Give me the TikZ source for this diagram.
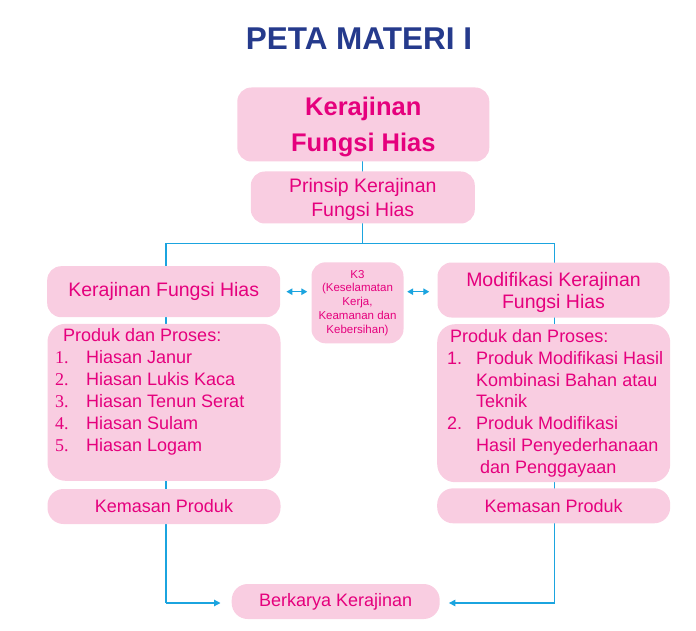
\documentclass[tikz,border=0pt]{standalone}
\usepackage{fontspec}
\setmainfont{Liberation Sans}
\newfontfamily\serifnum{Liberation Serif}
\usetikzlibrary{arrows.meta}
\definecolor{boxpink}{HTML}{F9CDE1}
\definecolor{txtmag}{HTML}{E5007D}
\definecolor{lncyan}{HTML}{1BA4DF}
\definecolor{navy}{HTML}{253A8C}
\newcommand{\fs}[2]{\fontsize{#1}{#2}\selectfont}
\tikzset{
  pbox/.style={fill=boxpink, draw=none, rounded corners=14pt, inner sep=0pt, text=txtmag, align=center},
  ptext/.style={text=txtmag, inner sep=0pt, align=left, anchor=north west},
  link/.style={draw=lncyan, line width=1.2pt},
  tip/.style={-{Triangle[length=6.5pt,width=6.5pt]}},
  dtip/.style={{Triangle[length=6pt,width=6.5pt]}-{Triangle[length=6pt,width=6.5pt]}}
}
\begin{document}
\begin{tikzpicture}[x=1pt,y=-1pt]
\useasboundingbox (0,0) rectangle (696,631);
% title
\node[text=navy, font=\fs{31.5}{36}\bfseries, anchor=base] (title) at (359,50) {PETA MATERI I};
% coordinates for lines
\coordinate (hL) at (166,243.3);
\coordinate (hR) at (554.5,243.3);
\coordinate (hM) at (362.7,243.3);
\coordinate (bL) at (166,603);
\coordinate (bR) at (554.5,603);
% lines behind boxes
\draw[link] (362.7,160) -- (hM);
\draw[link] (hL) -- (hR);
\draw[link] (hL) -- (bL);
\draw[link] (hR) -- (bR);
% boxes
\node[pbox, minimum width=252pt, minimum height=74pt, text depth=0pt, font=\fs{25.5}{35.5}\bfseries] (main) at (363.3,124.5) {Kerajinan\\Fungsi Hias};
\node[pbox, minimum width=224pt, minimum height=52pt, text depth=0pt, font=\fs{19.5}{24.5}] (prinsip) at (362.8,197.5) {Prinsip Kerajinan\\Fungsi Hias};
\node[pbox, minimum width=233pt, minimum height=51pt, font=\fs{19.5}{24}] (kfh) at (163.7,291.7) {Kerajinan Fungsi Hias};
\node[pbox, minimum width=92pt, minimum height=81pt, font=\fs{11.5}{13.8}] (k3) at (357.5,302.8) {K3\\(Keselamatan\\Kerja,\\Keamanan dan\\Kebersihan)};
\node[pbox, minimum width=232pt, minimum height=55pt, text depth=0pt, font=\fs{19.5}{22}] (mod) at (553.5,290) {Modifikasi Kerajinan\\Fungsi Hias};
\node[pbox, rounded corners=18pt, minimum width=233pt, minimum height=157pt] (lprod) at (164,402.3) {};
\node[pbox, rounded corners=18pt, minimum width=233pt, minimum height=158pt] (rprod) at (553.7,403.2) {};
\node[pbox, rounded corners=16pt, minimum width=233pt, minimum height=35pt, font=\fs{18}{22}] (lkem) at (164,506.5) {Kemasan Produk};
\node[pbox, rounded corners=16pt, minimum width=233pt, minimum height=35pt, font=\fs{18}{22}] (rkem) at (553.7,505.8) {Kemasan Produk};
\node[pbox, rounded corners=16pt, minimum width=208pt, minimum height=35pt, font=\fs{18}{22}] (berk) at (335.7,601.5) {Berkarya Kerajinan};
% list texts
\node[ptext, font=\fs{18}{21.9}] (ltxt) at (55,326.3) {\strut\hspace*{8pt}Produk dan Proses:\\
\makebox[31pt][l]{\serifnum 1.}Hiasan Janur\\
\makebox[31pt][l]{\serifnum 2.}Hiasan Lukis Kaca\\
\makebox[31pt][l]{\serifnum 3.}Hiasan Tenun Serat\\
\makebox[31pt][l]{\serifnum 4.}Hiasan Sulam\\
\makebox[31pt][l]{\serifnum 5.}Hiasan Logam};
\node[ptext, font=\fs{18}{21.8}] (rtxt) at (447,327) {\strut\hspace*{3pt}Produk dan Proses:\\
\makebox[29pt][l]{1.}Produk Modifikasi Hasil\\
\hspace*{29pt}Kombinasi Bahan atau\\
\hspace*{29pt}Teknik\\
\makebox[29pt][l]{2.}Produk Modifikasi\\
\hspace*{29pt}Hasil Penyederhanaan\\
\hspace*{33pt}dan Penggayaan};
% arrows
\draw[link, tip] (bL) -- ([xshift=-11pt]berk.west |- bL);
\draw[link, tip] (bR) -- ([xshift=9pt]berk.east |- bR);
\draw[link, dtip] ([xshift=6pt]kfh.east) -- ([xshift=-4pt]k3.west |- kfh.east);
\draw[link, dtip] ([xshift=3.5pt]k3.east |- kfh.east) -- ([xshift=-8pt]mod.west |- kfh.east);
\end{tikzpicture}
\end{document}
